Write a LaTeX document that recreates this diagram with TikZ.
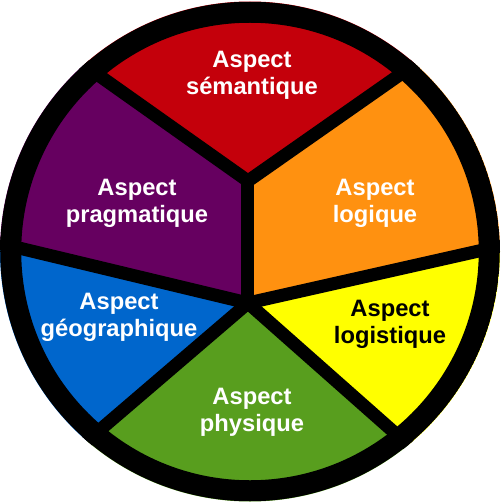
\documentclass[tikz,border=0pt]{standalone}
\usepackage{fontspec}
\setmainfont{Liberation Sans}
\usetikzlibrary{calc}
\definecolor{semred}{RGB}{196,0,11}
\definecolor{logorange}{RGB}{255,145,16}
\definecolor{pragpurple}{RGB}{102,0,96}
\definecolor{geoblue}{RGB}{0,102,204}
\definecolor{logyellow}{RGB}{255,255,0}
\definecolor{phygreen}{RGB}{88,158,30}
\tikzset{%
  aspect/.style={align=center, inner sep=0pt, text=white,
    font=\fontsize{13.5}{15.4}\selectfont\bfseries},% sector label
  divider/.style={line width=0.26cm, line cap=round, line join=round},% black separator
  rim/.style={line width=0.42cm}% outer black ring
}

\begin{document}
\begin{tikzpicture}[x=0.02cm, y=0.02cm]
\useasboundingbox (-250,-252.5) rectangle (251,251.5);
\coordinate (U) at (-2,70.5);
\coordinate (L) at (-2,-51.5);
\coordinate (ul) at ($(U)+(144.7:600)$);
\coordinate (ur) at ($(U)+(35:600)$);
\coordinate (lft) at ($(L)+(166.5:600)$);
\coordinate (rgt) at ($(L)+(12.7:600)$);
\coordinate (dl) at ($(L)+(220.6:600)$);
\coordinate (dr) at ($(L)+(318.5:600)$);

\begin{scope}
  \clip (0,0) circle (250);
  \fill[semred] (U) -- (ul) -- (ur) -- cycle;
  \fill[logorange] (U) -- (ur) -- (rgt) -- (L) -- cycle;
  \fill[logyellow] (L) -- (rgt) -- (dr) -- cycle;
  \fill[phygreen] (L) -- (dr) -- (dl) -- cycle;
  \fill[geoblue] (L) -- (dl) -- (lft) -- cycle;
  \fill[pragpurple] (U) -- (L) -- (lft) -- (ul) -- cycle;
  \draw[divider] (ul) -- (U) -- (ur);
  \draw[divider] (U) -- (L);
  \draw[divider] (lft) -- (L) -- (rgt);
  \draw[divider] (dl) -- (L) -- (dr);
  \draw[rim] (0,0) circle (239.25);
\end{scope}

\node[aspect] (semantique) at (2,176.5) {Aspect\\sémantique};
\node[aspect] (pragmatique) at (-113,48.5) {Aspect\\pragmatique};
\node[aspect] (logique) at (125,48.5) {Aspect\\logique};
\node[aspect] (geographique) at (-131,-65.5) {Aspect\\géographique};
\node[aspect, text=black] (logistique) at (140,-72.5) {Aspect\\logistique};
\node[aspect] (physique) at (2,-160.5) {Aspect\\physique};
\end{tikzpicture}
\end{document}
